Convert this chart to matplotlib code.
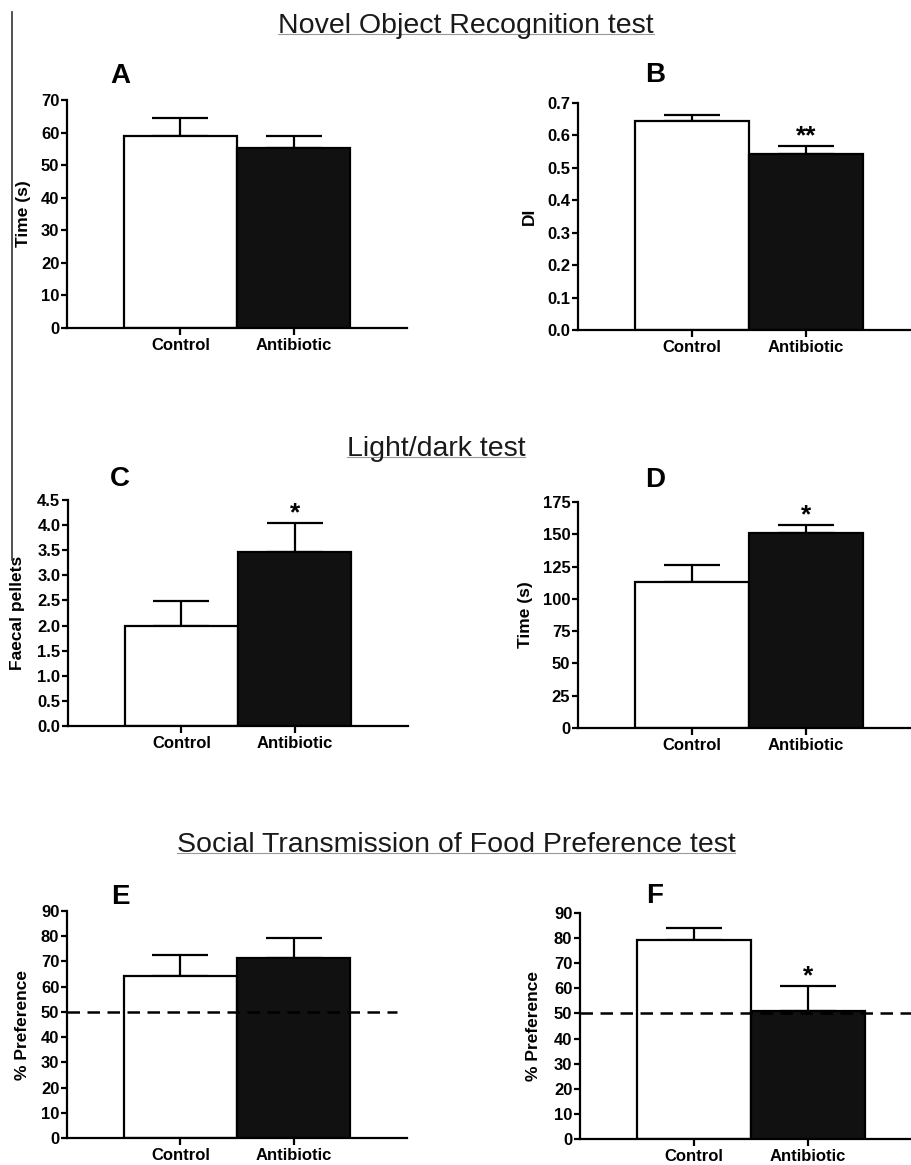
import matplotlib
matplotlib.use("Agg")
import matplotlib.pyplot as plt
from matplotlib.lines import Line2D
import numpy as np

plt.rcParams["font.family"] = ["Liberation Sans", "DejaVu Sans"]

# ---- data ----
groups = ["Control", "Antibiotic"]

nor_time_mean = [59.0, 55.4]
nor_time_sem = [5.4, 3.5]
nor_di_mean = [0.646, 0.543]
nor_di_sem = [0.018, 0.023]

ld_pellets_mean = [2.0, 3.47]
ld_pellets_sem = [0.48, 0.57]
ld_time_mean = [113.0, 151.2]
ld_time_sem = [13.2, 6.0]

stfp_e_mean = [64.4, 71.4]
stfp_e_sem = [8.3, 7.9]
stfp_f_mean = [79.4, 50.8]
stfp_f_sem = [4.6, 10.0]

chance_level = 50

W, H = 911, 1165


def fx(px):
    return px / W


def fy(py):
    return 1 - py / H


def add_axes_px(left, top, bottom, width=340):
    return fig.add_axes([fx(left), fy(bottom), width / W, (bottom - top) / H])


def bar_panel(ax, means, sems, ymax, step, fmt, ylabel, label_x_px, axis_left_px, star=None):
    x = np.arange(len(groups))
    ax.bar(x, means, width=1.0, color=["white", "#111111"], edgecolor="black",
           linewidth=1.6, zorder=2)
    ax.errorbar(x, means, yerr=[np.zeros(len(sems)), sems], fmt="none",
                ecolor="black", elinewidth=1.6, capsize=20, capthick=1.6, zorder=1)
    ax.set_xlim(-1, 2)
    ax.set_ylim(0, ymax)
    ax.set_yticks(np.arange(0, ymax + step / 2, step))
    ax.yaxis.set_major_formatter(matplotlib.ticker.FormatStrFormatter(fmt))
    ax.set_xticks(x)
    ax.set_xticklabels(groups)
    for s in ["top", "right"]:
        ax.spines[s].set_visible(False)
    for s in ["left", "bottom"]:
        ax.spines[s].set_linewidth(1.6)
    ax.tick_params(axis="y", length=4, width=1.6, pad=1.5, labelsize=12)
    ax.tick_params(axis="x", length=5, width=1.6, pad=2, labelsize=12)
    for lab in ax.get_xticklabels() + ax.get_yticklabels():
        lab.set_fontweight("bold")
    ax.set_ylabel(ylabel, fontsize=12.5, fontweight="bold")
    ax_w_px = ax.get_position().width * W
    # label anchor is the right edge of the rotated text
    ax.yaxis.set_label_coords((label_x_px + 7 - axis_left_px) / ax_w_px, 0.5)
    if star:
        i = 1
        ax.annotate(star, (x[i], means[i] + sems[i]), xytext=(0, 2),
                    textcoords="offset points", ha="center", va="baseline",
                    fontsize=19, fontweight="bold")


fig = plt.figure(figsize=(W / 100, H / 100), dpi=100)

axA = add_axes_px(67, 100, 328)
bar_panel(axA, nor_time_mean, nor_time_sem, 70, 10, "%d", "Time (s)", 24, 67)

axB = add_axes_px(578, 103, 330, width=342)
bar_panel(axB, nor_di_mean, nor_di_sem, 0.7, 0.1, "%.1f", "DI", 530, 578, star="**")

axC = add_axes_px(68, 500, 726)
bar_panel(axC, ld_pellets_mean, ld_pellets_sem, 4.5, 0.5, "%.1f", "Faecal pellets", 18, 68, star="*")

axD = add_axes_px(578, 502, 728, width=342)
bar_panel(axD, ld_time_mean, ld_time_sem, 175, 25, "%d", "Time (s)", 526, 578, star="*")

axE = add_axes_px(67, 911, 1138)
bar_panel(axE, stfp_e_mean, stfp_e_sem, 90, 10, "%d", "% Preference", 23, 67)
axE.axhline(chance_level, xmax=0.97, color="black", linewidth=1.8, dashes=(5, 3), zorder=3)

axF = add_axes_px(580, 913, 1139, width=342)
bar_panel(axF, stfp_f_mean, stfp_f_sem, 90, 10, "%d", "% Preference", 534, 580, star="*")
axF.axhline(chance_level, color="black", linewidth=1.8, dashes=(5, 3), zorder=3)

# panel letters
for letter, (px, py) in zip("ABCDEF", [(120, 76), (655, 75), (120, 479),
                                      (655, 480), (120, 897), (655, 896)]):
    fig.text(fx(px), fy(py), letter, fontsize=20, fontweight="bold",
             ha="center", va="center")

# section titles with underline
titles = [("Novel Object Recognition test", 466, 33),
          ("Light/dark test", 436, 456),
          ("Social Transmission of Food Preference test", 456, 852)]
fig.canvas.draw()
renderer = fig.canvas.get_renderer()
for text, cx, base in titles:
    t = fig.text(fx(cx), fy(base), text, fontsize=20.5, ha="center", va="baseline",
                 color="#1a1a1a")
    bb = t.get_window_extent(renderer)
    fig.add_artist(Line2D([bb.x0 / W, bb.x1 / W], [fy(base + 1)] * 2,
                          transform=fig.transFigure, color="#999999", linewidth=0.8))

# stray vertical rule at the left edge of the source figure
fig.add_artist(Line2D([fx(12), fx(12)], [fy(12), fy(560)], transform=fig.transFigure,
                      color="#333333", linewidth=1.2))

fig.savefig("out.png", dpi=100)
